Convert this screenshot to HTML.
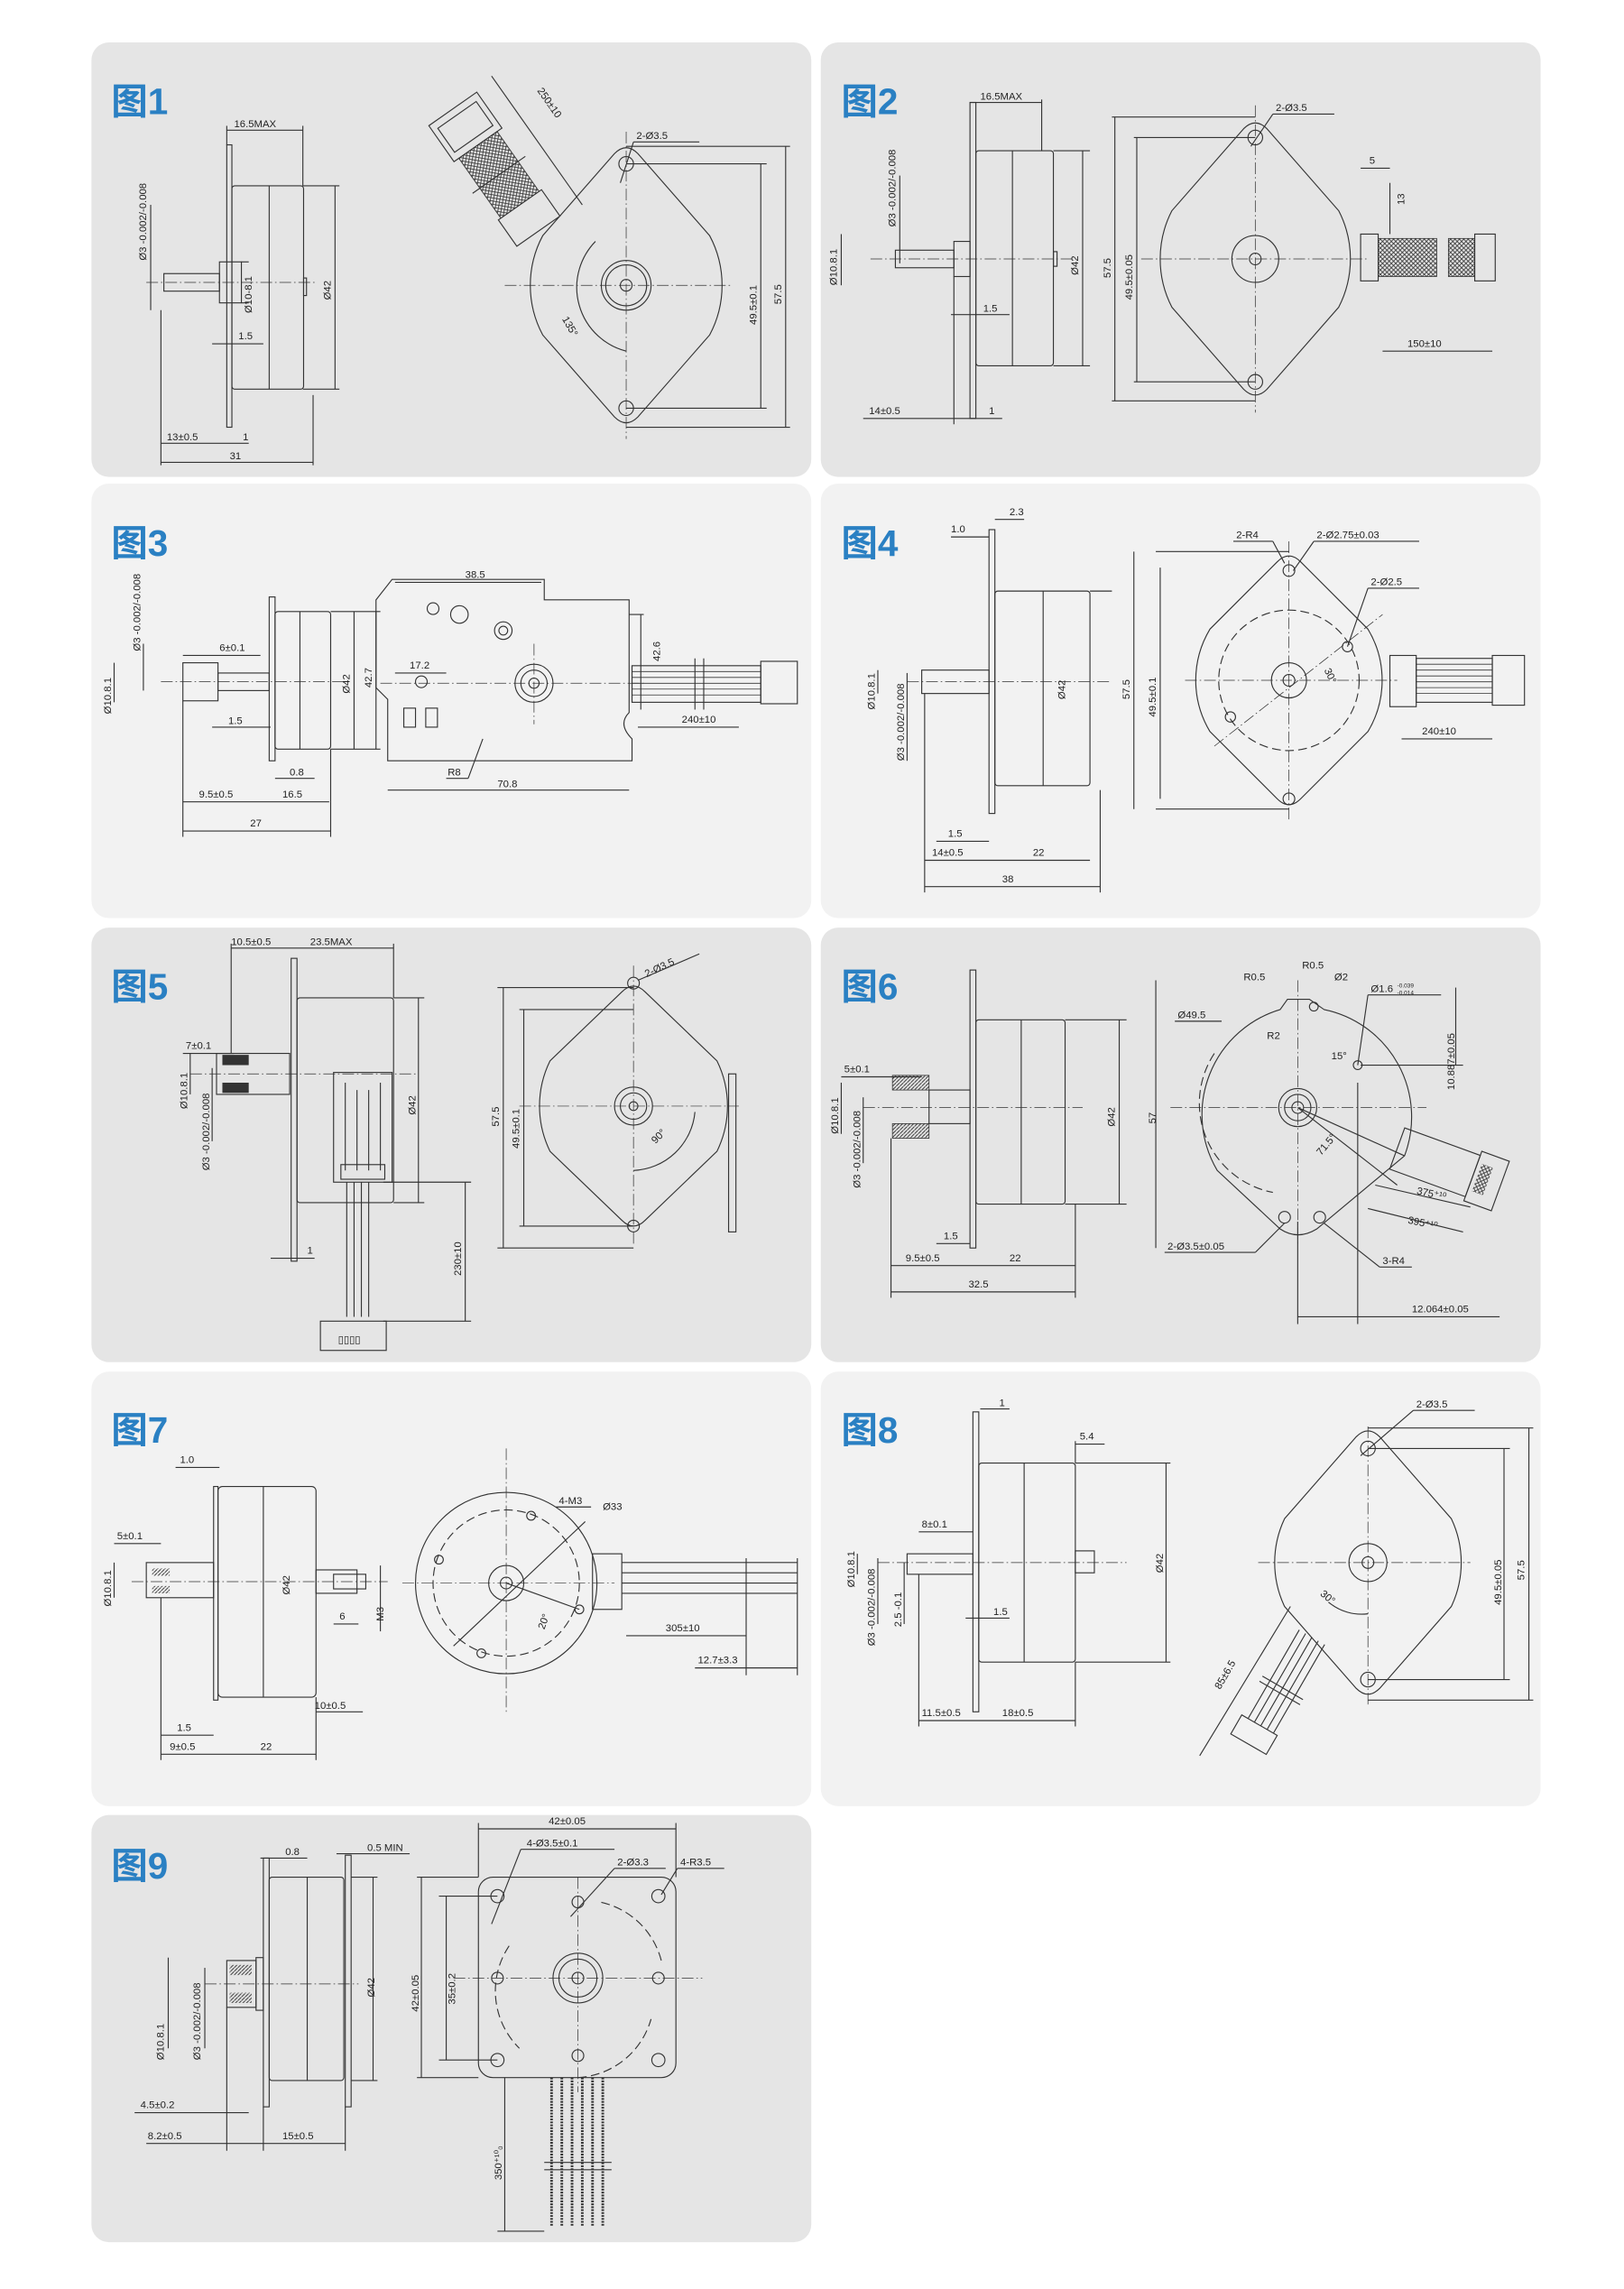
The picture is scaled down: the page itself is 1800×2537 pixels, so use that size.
<!DOCTYPE html>
<html><head><meta charset="utf-8"><style>
html,body{margin:0;padding:0;background:#fff;}
svg{display:block;}
text{font-family:"Liberation Sans",sans-serif;font-size:7px;fill:#222;}
.t{font-family:"Liberation Sans","Noto Sans CJK SC",sans-serif;font-size:25px;font-weight:bold;fill:#2a80c3;}
.l{stroke:#333;stroke-width:0.7;fill:none;}
.c{stroke:#333;stroke-width:0.45;fill:none;stroke-dasharray:8 2 1 2;}
.d{stroke:#333;stroke-width:0.7;fill:none;stroke-dasharray:6 3;}
.f{stroke:#333;stroke-width:0.7;fill:#ececec;}
</style></head><body>
<svg width="1800" height="2537" viewBox="0 0 1800 2537" xmlns="http://www.w3.org/2000/svg">
<defs>
<pattern id="hx" width="3" height="3" patternUnits="userSpaceOnUse"><path d="M0 0L3 3M3 0L0 3" stroke="#333" stroke-width="0.5"/></pattern>
<pattern id="hs" width="2.5" height="2.5" patternUnits="userSpaceOnUse"><path d="M0 2.5L2.5 0" stroke="#333" stroke-width="0.6"/></pattern>
</defs>
<g transform="scale(1.6216)">
<!-- panels -->
<rect x="62.5" y="29" width="492" height="297" rx="12" fill="#e5e5e5"/>
<rect x="561" y="29" width="492" height="297" rx="12" fill="#e5e5e5"/>
<rect x="62.5" y="330.5" width="492" height="297" rx="12" fill="#f2f2f2"/>
<rect x="561" y="330.5" width="492" height="297" rx="12" fill="#f2f2f2"/>
<rect x="62.5" y="634" width="492" height="297" rx="12" fill="#e5e5e5"/>
<rect x="561" y="634" width="492" height="297" rx="12" fill="#e5e5e5"/>
<rect x="62.5" y="937.5" width="492" height="297" rx="12" fill="#f2f2f2"/>
<rect x="561" y="937.5" width="492" height="297" rx="12" fill="#f2f2f2"/>
<rect x="62.5" y="1240.5" width="492" height="292" rx="12" fill="#e5e5e5"/>

<text class="t" x="76" y="78">图1</text>
<text class="t" x="575" y="78">图2</text>
<text class="t" x="76" y="380">图3</text>
<text class="t" x="575" y="380">图4</text>
<text class="t" x="76" y="683">图5</text>
<text class="t" x="575" y="683">图6</text>
<text class="t" x="76" y="986">图7</text>
<text class="t" x="575" y="986">图8</text>
<text class="t" x="76" y="1284">图9</text>

<!-- ===== PANEL 1 ===== -->
<rect class="l" x="155" y="99" width="3.5" height="193"/>
<rect class="l" x="158.5" y="127" width="49" height="139" rx="2"/>
<line class="l" x1="184" y1="127" x2="184" y2="266"/>
<rect class="l" x="207.5" y="190" width="2" height="12"/>
<rect class="l" x="112" y="187" width="38" height="12"/>
<rect class="l" x="150" y="179" width="15" height="28"/>
<line class="c" x1="100" y1="193" x2="215" y2="193"/>
<line class="l" x1="155" y1="89" x2="207" y2="89"/><line class="l" x1="155" y1="86" x2="155" y2="99"/><line class="l" x1="207" y1="86" x2="207" y2="127"/>
<text x="160" y="87">16.5MAX</text>
<line class="l" x1="207" y1="127" x2="232" y2="127"/><line class="l" x1="207" y1="266" x2="232" y2="266"/><line class="l" x1="229" y1="127" x2="229" y2="266"/>
<text transform="translate(226,205) rotate(-90)">Ø42</text>
<line class="l" x1="103" y1="140" x2="103" y2="212"/>
<text transform="translate(100,178) rotate(-90)">Ø3 -0.002/-0.008</text>
<line class="l" x1="165" y1="179" x2="170" y2="179"/><line class="l" x1="165" y1="207" x2="170" y2="207"/>
<text transform="translate(172,214) rotate(-90)">Ø10-8.1</text>
<line class="l" x1="145" y1="235" x2="180" y2="235"/><text x="163" y="232">1.5</text>
<line class="l" x1="110" y1="212" x2="110" y2="318"/><line class="l" x1="214" y1="270" x2="214" y2="318"/>
<line class="l" x1="110" y1="303" x2="170" y2="303"/><text x="114" y="301">13±0.5</text><text x="166" y="301">1</text>
<line class="l" x1="110" y1="316" x2="214" y2="316"/><text x="157" y="314">31</text>
<path class="l" d="M420,105 Q428,97 436,105 L485,161 A72 72 0 0 1 485 229 L436,285 Q428,293 420,285 L371,229 A72 72 0 0 1 371 161 Z"/>
<circle class="l" cx="428" cy="195" r="17"/><circle class="l" cx="428" cy="195" r="14"/><circle class="l" cx="428" cy="195" r="4"/>
<circle class="l" cx="428" cy="112" r="5"/><circle class="l" cx="428" cy="279" r="5"/>
<line class="c" x1="428" y1="90" x2="428" y2="300"/><line class="c" x1="345" y1="195" x2="500" y2="195"/>
<line class="l" x1="428" y1="100" x2="540" y2="100"/><line class="l" x1="428" y1="292" x2="540" y2="292"/>
<line class="l" x1="428" y1="112" x2="524" y2="112"/><line class="l" x1="428" y1="279" x2="524" y2="279"/>
<line class="l" x1="520" y1="112" x2="520" y2="279"/><line class="l" x1="537" y1="100" x2="537" y2="292"/>
<text transform="translate(517,222) rotate(-90)">49.5±0.1</text><text transform="translate(534,208) rotate(-90)">57.5</text>
<text x="435" y="95">2-Ø3.5</text><line class="l" x1="433" y1="97" x2="478" y2="97"/><line class="l" x1="433" y1="97" x2="424" y2="125"/>
<path class="l" d="M407,165 A45 45 0 0 0 428 240"/>
<text transform="translate(384,218) rotate(60)">135°</text>
<g transform="translate(368,158) rotate(-125)">
<rect class="l" x="0" y="-18" width="22" height="36"/>
<rect x="22" y="-16" width="50" height="32" fill="url(#hx)" stroke="#333" stroke-width="0.5"/>
<line class="l" x1="47" y1="-22" x2="47" y2="22"/>
<rect class="l" x="72" y="-20" width="30" height="40"/><rect class="l" x="77" y="-16" width="20" height="32"/>
</g>
<line class="l" x1="398" y1="140" x2="336" y2="52"/>
<text transform="translate(367,62) rotate(55)">250±10</text>

<!-- ===== PANEL 2 ===== -->
<rect class="l" x="663" y="70" width="4" height="216"/>
<rect class="l" x="667" y="103" width="53" height="147" rx="2"/>
<line class="l" x1="692" y1="103" x2="692" y2="250"/>
<rect class="l" x="720" y="172" width="2.5" height="10"/>
<rect class="l" x="612" y="171" width="40" height="12"/><rect class="l" x="652" y="165" width="11" height="24"/>
<line class="c" x1="595" y1="177" x2="735" y2="177"/>
<line class="l" x1="663" y1="70" x2="712" y2="70"/><line class="l" x1="712" y1="68" x2="712" y2="103"/><text x="670" y="68">16.5MAX</text>
<line class="l" x1="720" y1="103" x2="745" y2="103"/><line class="l" x1="720" y1="250" x2="745" y2="250"/><line class="l" x1="740" y1="103" x2="740" y2="250"/>
<text transform="translate(737,188) rotate(-90)">Ø42</text>
<line class="l" x1="575" y1="160" x2="575" y2="195"/><text transform="translate(572,195) rotate(-90)">Ø10.8.1</text>
<line class="l" x1="615" y1="120" x2="615" y2="180"/><text transform="translate(612,155) rotate(-90)">Ø3 -0.002/-0.008</text>
<line class="l" x1="650" y1="215" x2="690" y2="215"/><text x="672" y="213">1.5</text>
<line class="l" x1="590" y1="286" x2="685" y2="286"/><text x="594" y="283">14±0.5</text><text x="676" y="283">1</text>
<line class="l" x1="652" y1="189" x2="652" y2="290"/>
<path class="l" d="M850,88 Q858,80 866,88 L915,144 A72 72 0 0 1 915 210 L866,266 Q858,274 850,266 L801,210 A72 72 0 0 1 801 144 Z"/>
<circle class="l" cx="858" cy="177" r="16"/><circle class="l" cx="858" cy="177" r="4"/>
<circle class="l" cx="858" cy="94" r="5"/><circle class="l" cx="858" cy="261" r="5"/>
<line class="c" x1="858" y1="72" x2="858" y2="282"/><line class="c" x1="780" y1="177" x2="935" y2="177"/>
<line class="l" x1="760" y1="80" x2="858" y2="80"/><line class="l" x1="760" y1="274" x2="858" y2="274"/>
<line class="l" x1="775" y1="94" x2="858" y2="94"/><line class="l" x1="775" y1="261" x2="858" y2="261"/>
<line class="l" x1="762" y1="80" x2="762" y2="274"/><line class="l" x1="777" y1="94" x2="777" y2="261"/>
<text transform="translate(759,190) rotate(-90)">57.5</text><text transform="translate(774,205) rotate(-90)">49.5±0.05</text>
<text x="872" y="76">2-Ø3.5</text><line class="l" x1="870" y1="78" x2="912" y2="78"/><line class="l" x1="870" y1="78" x2="855" y2="100"/>
<rect class="l" x="930" y="160" width="12" height="32"/>
<rect x="942" y="163" width="40" height="26" fill="url(#hx)" stroke="#333" stroke-width="0.5"/>
<rect x="990" y="163" width="18" height="26" fill="url(#hx)" stroke="#333" stroke-width="0.5"/>
<rect class="l" x="1008" y="160" width="14" height="32"/>
<line class="l" x1="930" y1="115" x2="950" y2="115"/><text x="936" y="112">5</text>
<line class="l" x1="950" y1="125" x2="950" y2="160"/><text transform="translate(960,140) rotate(-90)">13</text>
<line class="l" x1="945" y1="240" x2="1020" y2="240"/><text x="962" y="237">150±10</text>

<!-- ===== PANEL 3 ===== -->
<rect class="l" x="184" y="408" width="4" height="112"/>
<rect class="l" x="188" y="418" width="38" height="94" rx="2"/><line class="l" x1="205" y1="418" x2="205" y2="512"/>
<rect class="l" x="125" y="453" width="24" height="26"/><rect class="l" x="149" y="460" width="35" height="12"/>
<line class="c" x1="110" y1="466" x2="240" y2="466"/>
<line class="l" x1="125" y1="448" x2="178" y2="448"/><text x="150" y="445">6±0.1</text>
<line class="l" x1="78" y1="453" x2="78" y2="480"/><text transform="translate(76,488) rotate(-90)">Ø10.8.1</text>
<line class="l" x1="98" y1="440" x2="98" y2="472"/><text transform="translate(96,445) rotate(-90)">Ø3 -0.002/-0.008</text>
<line class="l" x1="145" y1="497" x2="185" y2="497"/><text x="156" y="495">1.5</text>
<line class="l" x1="226" y1="418" x2="260" y2="418"/><line class="l" x1="226" y1="512" x2="260" y2="512"/>
<line class="l" x1="242" y1="418" x2="242" y2="512"/><line class="l" x1="257" y1="418" x2="257" y2="512"/>
<text transform="translate(239,474) rotate(-90)">Ø42</text><text transform="translate(254,470) rotate(-90)">42.7</text>
<line class="l" x1="188" y1="532" x2="215" y2="532"/><text x="198" y="530">0.8</text>
<line class="l" x1="125" y1="548" x2="225" y2="548"/><text x="136" y="545">9.5±0.5</text><text x="193" y="545">16.5</text>
<line class="l" x1="125" y1="568" x2="226" y2="568"/><text x="171" y="565">27</text>
<line class="l" x1="125" y1="479" x2="125" y2="572"/><line class="l" x1="226" y1="512" x2="226" y2="572"/>
<path class="l" d="M257,410 L268,396 L372,396 L372,410 L430,410 L430,487 Q422,495 432,505 L432,520 L265,520 L265,478 L257,470 Z"/>
<circle class="l" cx="365" cy="467" r="13"/><circle class="l" cx="365" cy="467" r="9"/><circle class="l" cx="365" cy="467" r="3.5"/>
<circle class="l" cx="296" cy="416" r="4"/><circle class="l" cx="314" cy="420" r="6"/><circle class="l" cx="344" cy="431" r="6"/><circle class="l" cx="344" cy="431" r="3"/>
<rect class="l" x="276" y="484" width="8" height="13"/><rect class="l" x="291" y="484" width="8" height="13"/>
<circle class="l" cx="288" cy="466" r="4"/>
<line class="c" x1="260" y1="467" x2="440" y2="467"/><line class="c" x1="365" y1="440" x2="365" y2="495"/>
<rect class="l" x="432" y="455" width="88" height="25"/>
<path d="M432,459H520M432,463H520M432,467H520M432,471H520M432,475H520" stroke="#333" stroke-width="0.5"/>
<line class="l" x1="475" y1="450" x2="475" y2="485"/><line class="l" x1="481" y1="450" x2="481" y2="485"/>
<rect class="l" x="520" y="452" width="25" height="29"/>
<line class="l" x1="270" y1="398" x2="370" y2="398"/><text x="318" y="395">38.5</text>
<line class="l" x1="430" y1="420" x2="440" y2="420"/><line class="l" x1="438" y1="420" x2="438" y2="485"/><text transform="translate(451,452) rotate(-90)">42.6</text>
<line class="l" x1="270" y1="460" x2="305" y2="460"/><text x="280" y="457">17.2</text>
<line class="l" x1="436" y1="497" x2="505" y2="497"/><text x="466" y="494">240±10</text>
<line class="l" x1="305" y1="532" x2="320" y2="532"/><line class="l" x1="320" y1="532" x2="330" y2="505"/><text x="306" y="530">R8</text>
<line class="l" x1="265" y1="540" x2="430" y2="540"/><text x="340" y="538">70.8</text>

<!-- ===== PANEL 4 ===== -->
<rect class="l" x="676" y="362" width="4" height="194"/>
<rect class="l" x="680" y="404" width="65" height="133" rx="2"/><line class="l" x1="713" y1="404" x2="713" y2="537"/>
<rect class="l" x="630" y="458" width="46" height="16"/>
<line class="c" x1="620" y1="466" x2="760" y2="466"/>
<line class="l" x1="650" y1="367" x2="676" y2="367"/><text x="650" y="364">1.0</text>
<line class="l" x1="680" y1="355" x2="700" y2="355"/><text x="690" y="352">2.3</text>
<line class="l" x1="600" y1="458" x2="600" y2="474"/><text transform="translate(598,485) rotate(-90)">Ø10.8.1</text>
<line class="l" x1="620" y1="460" x2="620" y2="520"/><text transform="translate(618,520) rotate(-90)">Ø3 -0.002/-0.008</text>
<text transform="translate(728,478) rotate(-90)">Ø42</text>
<line class="l" x1="745" y1="404" x2="760" y2="404"/>
<line class="l" x1="790" y1="377" x2="881" y2="377"/><line class="l" x1="790" y1="553" x2="881" y2="553"/>
<line class="l" x1="775" y1="377" x2="775" y2="553"/><line class="l" x1="793" y1="388" x2="793" y2="546"/>
<text transform="translate(772,478) rotate(-90)">57.5</text><text transform="translate(790,490) rotate(-90)">49.5±0.1</text>
<line class="l" x1="640" y1="575" x2="676" y2="575"/><text x="648" y="572">1.5</text>
<line class="l" x1="632" y1="588" x2="745" y2="588"/><text x="637" y="585">14±0.5</text><text x="706" y="585">22</text>
<line class="l" x1="632" y1="606" x2="752" y2="606"/><text x="685" y="603">38</text>
<line class="l" x1="632" y1="474" x2="632" y2="610"/><line class="l" x1="752" y1="540" x2="752" y2="610"/>
<path class="l" d="M873,384 Q881,376 889,384 L935,430 A68 68 0 0 1 935 500 L889,546 Q881,554 873,546 L827,500 A68 68 0 0 1 827 430 Z"/>
<circle class="d" cx="881" cy="465" r="48"/>
<circle class="l" cx="881" cy="465" r="12"/><circle class="l" cx="881" cy="465" r="4"/>
<circle class="l" cx="881" cy="390" r="4"/><circle class="l" cx="881" cy="546" r="4"/><circle class="l" cx="921" cy="442" r="3.5"/><circle class="l" cx="841" cy="490" r="3.5"/>
<line class="c" x1="881" y1="370" x2="881" y2="560"/><line class="c" x1="810" y1="465" x2="955" y2="465"/><line class="c" x1="830" y1="510" x2="945" y2="420"/>
<rect class="l" x="950" y="448" width="18" height="35"/><rect class="l" x="968" y="450" width="52" height="30"/>
<path d="M968,454H1020M968,458H1020M968,462H1020M968,466H1020M968,470H1020M968,474H1020" stroke="#333" stroke-width="0.5"/>
<rect class="l" x="1020" y="448" width="22" height="34"/>
<line class="l" x1="958" y1="505" x2="1020" y2="505"/><text x="972" y="502">240±10</text>
<text x="845" y="368">2-R4</text><line class="l" x1="843" y1="370" x2="870" y2="370"/><line class="l" x1="870" y1="370" x2="878" y2="385"/>
<text x="900" y="368">2-Ø2.75±0.03</text><line class="l" x1="898" y1="370" x2="970" y2="370"/><line class="l" x1="898" y1="370" x2="884" y2="390"/>
<text x="937" y="400">2-Ø2.5</text><line class="l" x1="935" y1="402" x2="970" y2="402"/><line class="l" x1="935" y1="402" x2="921" y2="442"/>
<text transform="translate(905,458) rotate(65)">30°</text>

<!-- ===== PANEL 5 ===== -->
<rect class="l" x="199" y="655" width="4" height="207"/>
<rect class="l" x="203" y="682" width="66" height="140" rx="2"/>
<rect class="l" x="148" y="720" width="50" height="28"/>
<rect x="152" y="721" width="18" height="7" fill="#333"/><rect x="152" y="740" width="18" height="7" fill="#333"/>
<line class="c" x1="130" y1="734" x2="285" y2="734"/>
<rect class="l" x="228" y="733" width="40" height="75"/>
<path class="l" d="M236,740 V800 M244,745 V800 M252,745 V800 M260,740 V800"/>
<rect class="l" x="233" y="796" width="30" height="10"/>
<path class="l" d="M237,808 V900 M242,808 V900 M247,808 V900 M252,808 V900"/>
<rect class="l" x="219" y="903" width="45" height="20"/><text x="231" y="918">▯▯▯▯</text>
<line class="l" x1="158" y1="648" x2="269" y2="648"/><line class="l" x1="158" y1="645" x2="158" y2="720"/><line class="l" x1="269" y1="645" x2="269" y2="682"/>
<text x="158" y="646">10.5±0.5</text><text x="212" y="646">23.5MAX</text>
<line class="l" x1="125" y1="720" x2="160" y2="720"/><text x="127" y="717">7±0.1</text>
<line class="l" x1="130" y1="720" x2="130" y2="748"/><text transform="translate(128,758) rotate(-90)">Ø10.8.1</text>
<line class="l" x1="145" y1="730" x2="145" y2="780"/><text transform="translate(143,800) rotate(-90)">Ø3 -0.002/-0.008</text>
<line class="l" x1="269" y1="682" x2="290" y2="682"/><line class="l" x1="269" y1="822" x2="290" y2="822"/><line class="l" x1="286" y1="682" x2="286" y2="822"/>
<text transform="translate(284,762) rotate(-90)">Ø42</text>
<line class="l" x1="185" y1="860" x2="215" y2="860"/><text x="210" y="857">1</text>
<line class="l" x1="262" y1="808" x2="322" y2="808"/><line class="l" x1="262" y1="903" x2="322" y2="903"/><line class="l" x1="318" y1="808" x2="318" y2="903"/>
<text transform="translate(315,872) rotate(-90)">230±10</text>
<path class="l" d="M425,678 Q433,670 441,678 L490,725 A70 70 0 0 1 490 787 L441,834 Q433,842 425,834 L376,787 A70 70 0 0 1 376 725 Z"/>
<circle class="l" cx="433" cy="756" r="13"/><circle class="l" cx="433" cy="756" r="9"/><circle class="l" cx="433" cy="756" r="3"/>
<circle class="l" cx="433" cy="672" r="4"/><circle class="l" cx="433" cy="838" r="4"/>
<line class="c" x1="433" y1="660" x2="433" y2="850"/><line class="c" x1="355" y1="756" x2="505" y2="756"/>
<rect class="l" x="498" y="734" width="5" height="108"/>
<line class="l" x1="340" y1="675" x2="433" y2="675"/><line class="l" x1="340" y1="853" x2="433" y2="853"/>
<line class="l" x1="344" y1="675" x2="344" y2="853"/><line class="l" x1="358" y1="690" x2="358" y2="838"/>
<line class="l" x1="355" y1="690" x2="433" y2="690"/><line class="l" x1="355" y1="838" x2="433" y2="838"/>
<text transform="translate(341,770) rotate(-90)">57.5</text><text transform="translate(355,785) rotate(-90)">49.5±0.1</text>
<text transform="translate(442,668) rotate(-25)">2-Ø3.5</text><line class="l" x1="436" y1="670" x2="478" y2="652"/>
<path class="l" d="M433,800 A44 44 0 0 0 475 760"/><text transform="translate(448,782) rotate(-45)">90°</text>

<!-- ===== PANEL 6 ===== -->
<rect class="l" x="663" y="663" width="4" height="190"/>
<rect class="l" x="667" y="697" width="61" height="126" rx="2"/><line class="l" x1="698" y1="697" x2="698" y2="823"/>
<rect x="610" y="735" width="25" height="10" fill="url(#hs)" stroke="#333" stroke-width="0.5"/>
<rect x="610" y="768" width="25" height="10" fill="url(#hs)" stroke="#333" stroke-width="0.5"/>
<rect class="l" x="635" y="745" width="28" height="23"/>
<line class="c" x1="590" y1="757" x2="740" y2="757"/>
<line class="l" x1="575" y1="736" x2="630" y2="736"/><text x="577" y="733">5±0.1</text>
<line class="l" x1="575" y1="740" x2="575" y2="775"/><text transform="translate(573,775) rotate(-90)">Ø10.8.1</text>
<line class="l" x1="590" y1="750" x2="590" y2="795"/><text transform="translate(588,812) rotate(-90)">Ø3 -0.002/-0.008</text>
<line class="l" x1="728" y1="697" x2="770" y2="697"/><line class="l" x1="728" y1="823" x2="770" y2="823"/><line class="l" x1="765" y1="697" x2="765" y2="823"/>
<text transform="translate(762,770) rotate(-90)">Ø42</text>
<line class="l" x1="790" y1="670" x2="790" y2="853"/><text transform="translate(790,768) rotate(-90)">57</text>
<line class="l" x1="640" y1="850" x2="663" y2="850"/><text x="645" y="847">1.5</text>
<line class="l" x1="609" y1="865" x2="735" y2="865"/><text x="619" y="862">9.5±0.5</text><text x="690" y="862">22</text>
<line class="l" x1="609" y1="883" x2="735" y2="883"/><text x="662" y="880">32.5</text>
<line class="l" x1="609" y1="778" x2="609" y2="887"/><line class="l" x1="735" y1="823" x2="735" y2="887"/>
<path class="l" d="M875,690 L880,683 L895,683 L905,690 A75 75 0 0 1 960 790 L900,840 Q887,848 875,840 L832,800 A75 75 0 0 1 875 690 Z"/>
<path class="d" d="M830,720 A62 62 0 0 0 870,815"/>
<circle class="l" cx="887" cy="757" r="13"/><circle class="l" cx="887" cy="757" r="9"/><circle class="l" cx="887" cy="757" r="4"/>
<circle class="l" cx="878" cy="832" r="4"/><circle class="l" cx="902" cy="832" r="4"/><circle class="l" cx="928" cy="728" r="3"/><circle class="l" cx="898" cy="688" r="3"/>
<line class="c" x1="800" y1="757" x2="975" y2="757"/><line class="c" x1="887" y1="670" x2="887" y2="850"/>
<line class="l" x1="887" y1="757" x2="960" y2="790"/><line class="l" x1="887" y1="757" x2="955" y2="810"/>
<g transform="translate(955,785) rotate(20)"><rect class="l" x="0" y="-15" width="55" height="30"/><rect class="l" x="55" y="-18" width="20" height="36"/><rect x="58" y="-10" width="8" height="20" fill="url(#hx)"/></g>
<text x="850" y="670">R0.5</text><text x="890" y="662">R0.5</text><text x="912" y="670">Ø2</text>
<text x="937" y="678">Ø1.6</text><text x="955" y="675" style="font-size:4px">-0.039</text><text x="955" y="680" style="font-size:4px">-0.014</text>
<line class="l" x1="935" y1="680" x2="985" y2="680"/><line class="l" x1="935" y1="680" x2="928" y2="728"/>
<line class="l" x1="930" y1="728" x2="1000" y2="728"/><line class="l" x1="995" y1="675" x2="995" y2="728"/>
<text transform="translate(994,745) rotate(-90)">10.887±0.05</text>
<text x="805" y="696">Ø49.5</text><line class="l" x1="803" y1="698" x2="835" y2="698"/>
<text x="866" y="710">R2</text><text x="910" y="724">15°</text>
<text transform="translate(903,790) rotate(-50)">71.5°</text>
<text transform="translate(968,816) rotate(12)">375⁺¹⁰</text><text transform="translate(962,836) rotate(12)">395⁺¹⁰</text>
<line class="l" x1="940" y1="810" x2="1005" y2="825"/><line class="l" x1="935" y1="826" x2="1000" y2="842"/>
<text x="798" y="854">2-Ø3.5±0.05</text><line class="l" x1="796" y1="856" x2="858" y2="856"/><line class="l" x1="858" y1="856" x2="878" y2="836"/>
<text x="945" y="864">3-R4</text><line class="l" x1="943" y1="866" x2="965" y2="866"/><line class="l" x1="943" y1="866" x2="905" y2="836"/>
<line class="l" x1="887" y1="835" x2="887" y2="905"/><line class="l" x1="928" y1="740" x2="928" y2="905"/>
<line class="l" x1="887" y1="900" x2="1025" y2="900"/><text x="965" y="897">12.064±0.05</text>

<!-- ===== PANEL 7 ===== -->
<rect class="l" x="146" y="1016" width="3" height="146"/>
<rect class="l" x="149" y="1016" width="67" height="144" rx="3"/><line class="l" x1="180" y1="1016" x2="180" y2="1160"/>
<rect class="l" x="100" y="1068" width="46" height="24"/>
<rect x="104" y="1072" width="12" height="5" fill="url(#hs)"/><rect x="104" y="1084" width="12" height="5" fill="url(#hs)"/>
<rect class="l" x="216" y="1073" width="28" height="16"/><rect class="l" x="228" y="1076" width="22" height="10"/>
<line class="c" x1="90" y1="1081" x2="265" y2="1081"/>
<line class="l" x1="120" y1="1003" x2="150" y2="1003"/><text x="123" y="1000">1.0</text>
<line class="l" x1="78" y1="1055" x2="110" y2="1055"/><text x="80" y="1052">5±0.1</text>
<line class="l" x1="78" y1="1068" x2="78" y2="1092"/><text transform="translate(76,1098) rotate(-90)">Ø10.8.1</text>
<text transform="translate(198,1090) rotate(-90)">Ø42</text>
<line class="l" x1="228" y1="1110" x2="245" y2="1110"/><text x="232" y="1107">6</text>
<line class="l" x1="260" y1="1070" x2="260" y2="1115"/><text transform="translate(262,1108) rotate(-90)">M3</text>
<line class="l" x1="216" y1="1170" x2="248" y2="1170"/><text x="215" y="1168">10±0.5</text>
<line class="l" x1="110" y1="1186" x2="146" y2="1186"/><text x="121" y="1183">1.5</text>
<line class="l" x1="110" y1="1199" x2="216" y2="1199"/><text x="116" y="1196">9±0.5</text><text x="178" y="1196">22</text>
<line class="l" x1="110" y1="1092" x2="110" y2="1203"/><line class="l" x1="216" y1="1160" x2="216" y2="1203"/>
<circle class="l" cx="346" cy="1082" r="62"/><circle class="d" cx="346" cy="1082" r="50"/>
<circle class="l" cx="346" cy="1082" r="12"/><circle class="l" cx="346" cy="1082" r="4"/>
<circle class="l" cx="363" cy="1036" r="3"/><circle class="l" cx="396" cy="1100" r="3"/><circle class="l" cx="300" cy="1066" r="3"/><circle class="l" cx="329" cy="1130" r="3"/>
<line class="c" x1="346" y1="990" x2="346" y2="1170"/><line class="c" x1="275" y1="1082" x2="420" y2="1082"/>
<line class="l" x1="310" y1="1125" x2="400" y2="1040"/><line class="l" x1="346" y1="1082" x2="396" y2="1100"/>
<rect class="l" x="405" y="1062" width="20" height="38"/>
<path class="l" d="M425,1068H545M425,1075H545M425,1082H545M425,1089H545"/>
<line class="l" x1="428" y1="1118" x2="510" y2="1118"/><text x="455" y="1115">305±10</text>
<line class="l" x1="475" y1="1140" x2="545" y2="1140"/><text x="477" y="1137">12.7±3.3</text>
<line class="l" x1="545" y1="1065" x2="545" y2="1145"/><line class="l" x1="510" y1="1065" x2="510" y2="1145"/>
<text x="382" y="1028">4-M3</text><line class="l" x1="380" y1="1030" x2="404" y2="1030"/><text x="412" y="1032">Ø33</text>
<text transform="translate(372,1114) rotate(-70)">20°</text>

<!-- ===== PANEL 8 ===== -->
<rect class="l" x="665" y="965" width="4" height="205"/>
<rect class="l" x="669" y="1000" width="66" height="136" rx="2"/><line class="l" x1="700" y1="1000" x2="700" y2="1136"/>
<rect class="l" x="735" y="1060" width="13" height="15"/>
<rect class="l" x="620" y="1062" width="45" height="14"/>
<line class="c" x1="600" y1="1068" x2="770" y2="1068"/>
<line class="l" x1="670" y1="963" x2="690" y2="963"/><text x="683" y="961">1</text>
<line class="l" x1="735" y1="987" x2="755" y2="987"/><line class="l" x1="735" y1="985" x2="735" y2="1000"/><text x="738" y="984">5.4</text>
<line class="l" x1="628" y1="1047" x2="665" y2="1047"/><text x="630" y="1044">8±0.1</text>
<line class="l" x1="586" y1="1062" x2="586" y2="1076"/><text transform="translate(584,1085) rotate(-90)">Ø10.8.1</text>
<line class="l" x1="600" y1="1065" x2="600" y2="1110"/><text transform="translate(598,1125) rotate(-90)">Ø3 -0.002/-0.008</text>
<line class="l" x1="618" y1="1068" x2="618" y2="1110"/><text transform="translate(616,1112) rotate(-90)">2.5 -0.1</text>
<line class="l" x1="660" y1="1106" x2="690" y2="1106"/><text x="679" y="1104">1.5</text>
<line class="l" x1="735" y1="1000" x2="800" y2="1000"/><line class="l" x1="735" y1="1136" x2="800" y2="1136"/><line class="l" x1="797" y1="1000" x2="797" y2="1136"/>
<text transform="translate(795,1075) rotate(-90)">Ø42</text>
<line class="l" x1="628" y1="1176" x2="735" y2="1176"/><text x="630" y="1173">11.5±0.5</text><text x="685" y="1173">18±0.5</text>
<line class="l" x1="628" y1="1076" x2="628" y2="1180"/><line class="l" x1="735" y1="1136" x2="735" y2="1180"/>
<path class="l" d="M927,982 Q935,974 943,982 L992,1038 A70 70 0 0 1 992 1098 L943,1154 Q935,1162 927,1154 L878,1098 A70 70 0 0 1 878 1038 Z"/>
<circle class="l" cx="935" cy="1068" r="13"/><circle class="l" cx="935" cy="1068" r="4"/>
<circle class="l" cx="935" cy="990" r="5"/><circle class="l" cx="935" cy="1148" r="5"/>
<line class="c" x1="935" y1="975" x2="935" y2="1165"/><line class="c" x1="860" y1="1068" x2="1005" y2="1068"/>
<line class="l" x1="935" y1="976" x2="1048" y2="976"/><line class="l" x1="935" y1="1162" x2="1048" y2="1162"/>
<line class="l" x1="935" y1="990" x2="1032" y2="990"/><line class="l" x1="935" y1="1148" x2="1032" y2="1148"/>
<line class="l" x1="1028" y1="990" x2="1028" y2="1148"/><line class="l" x1="1045" y1="976" x2="1045" y2="1162"/>
<text transform="translate(1026,1097) rotate(-90)">49.5±0.05</text><text transform="translate(1042,1080) rotate(-90)">57.5</text>
<text x="968" y="962">2-Ø3.5</text><line class="l" x1="966" y1="964" x2="1008" y2="964"/><line class="l" x1="966" y1="964" x2="930" y2="995"/>
<path class="l" d="M908,1095 A35 35 0 0 0 935 1103"/><text transform="translate(902,1090) rotate(40)">30°</text>
<g transform="translate(895,1118) rotate(120)">
<path class="l" d="M0,-12H70M0,-7H70M0,-2H70M0,3H70M0,8H70"/>
<line class="l" x1="40" y1="-18" x2="40" y2="14"/><line class="l" x1="44" y1="-18" x2="44" y2="14"/>
<rect class="l" x="70" y="-15" width="15" height="28"/>
</g>
<line class="l" x1="882" y1="1098" x2="820" y2="1200"/>
<text transform="translate(834,1155) rotate(-60)">85±6.5</text>

<!-- ===== PANEL 9 ===== -->
<rect class="l" x="180" y="1270" width="4" height="170"/>
<rect class="l" x="184" y="1283" width="51" height="139" rx="2"/><line class="l" x1="210" y1="1283" x2="210" y2="1422"/>
<rect class="l" x="236" y="1268" width="4" height="172"/>
<rect class="l" x="155" y="1340" width="20" height="32"/>
<rect x="157" y="1343" width="15" height="7" fill="url(#hs)"/><rect x="157" y="1362" width="15" height="7" fill="url(#hs)"/>
<rect class="l" x="175" y="1338" width="5" height="36"/>
<line class="c" x1="140" y1="1356" x2="245" y2="1356"/>
<line class="l" x1="178" y1="1270" x2="210" y2="1270"/><text x="195" y="1268">0.8</text>
<line class="l" x1="230" y1="1267" x2="280" y2="1267"/><text x="251" y="1265">0.5 MIN</text>
<line class="l" x1="240" y1="1283" x2="258" y2="1283"/><line class="l" x1="240" y1="1422" x2="258" y2="1422"/><line class="l" x1="255" y1="1283" x2="255" y2="1422"/>
<text transform="translate(256,1365) rotate(-90)">Ø42</text>
<line class="l" x1="115" y1="1338" x2="115" y2="1400"/><text transform="translate(112,1408) rotate(-90)">Ø10.8.1</text>
<line class="l" x1="140" y1="1345" x2="140" y2="1400"/><text transform="translate(137,1408) rotate(-90)">Ø3 -0.002/-0.008</text>
<line class="l" x1="92" y1="1444" x2="170" y2="1444"/><text x="96" y="1441">4.5±0.2</text>
<line class="l" x1="100" y1="1465" x2="236" y2="1465"/><text x="101" y="1462">8.2±0.5</text><text x="193" y="1462">15±0.5</text>
<line class="l" x1="155" y1="1372" x2="155" y2="1470"/><line class="l" x1="180" y1="1440" x2="180" y2="1470"/><line class="l" x1="236" y1="1440" x2="236" y2="1470"/>
<rect class="l" x="327" y="1283" width="135" height="137" rx="10"/>
<path class="d" d="M348,1330 A55 55 0 0 0 355 1400 M395,1420 A55 55 0 0 0 445 1380 M452,1340 A55 55 0 0 0 410 1300"/>
<circle class="l" cx="395" cy="1352" r="17"/><circle class="l" cx="395" cy="1352" r="13"/><circle class="l" cx="395" cy="1352" r="4"/>
<circle class="l" cx="340" cy="1296" r="4.5"/><circle class="l" cx="450" cy="1296" r="4.5"/><circle class="l" cx="340" cy="1408" r="4.5"/><circle class="l" cx="450" cy="1408" r="4.5"/>
<circle class="l" cx="395" cy="1300" r="4"/><circle class="l" cx="340" cy="1352" r="4"/><circle class="l" cx="450" cy="1352" r="4"/><circle class="l" cx="395" cy="1405" r="4"/>
<line class="c" x1="395" y1="1283" x2="395" y2="1430"/><line class="c" x1="310" y1="1352" x2="480" y2="1352"/>
<line class="l" x1="327" y1="1250" x2="462" y2="1250"/><line class="l" x1="327" y1="1246" x2="327" y2="1283"/><line class="l" x1="462" y1="1246" x2="462" y2="1283"/>
<text x="375" y="1247">42±0.05</text>
<text x="360" y="1262">4-Ø3.5±0.1</text><line class="l" x1="356" y1="1264" x2="420" y2="1264"/><line class="l" x1="356" y1="1264" x2="336" y2="1315"/>
<text x="422" y="1275">2-Ø3.3</text><line class="l" x1="420" y1="1277" x2="455" y2="1277"/><line class="l" x1="420" y1="1277" x2="390" y2="1310"/>
<text x="465" y="1275">4-R3.5</text><line class="l" x1="463" y1="1277" x2="495" y2="1277"/><line class="l" x1="463" y1="1277" x2="452" y2="1295"/>
<line class="l" x1="285" y1="1283" x2="327" y2="1283"/><line class="l" x1="285" y1="1420" x2="327" y2="1420"/><line class="l" x1="288" y1="1283" x2="288" y2="1420"/>
<line class="l" x1="300" y1="1296" x2="340" y2="1296"/><line class="l" x1="300" y1="1408" x2="340" y2="1408"/><line class="l" x1="305" y1="1296" x2="305" y2="1408"/>
<text transform="translate(286,1375) rotate(-90)">42±0.05</text><text transform="translate(311,1370) rotate(-90)">35±0.2</text>
<g stroke="#333" stroke-width="1.8" stroke-dasharray="1.2 0.8">
<line x1="377" y1="1420" x2="377" y2="1522"/><line x1="384" y1="1420" x2="384" y2="1522"/><line x1="391" y1="1420" x2="391" y2="1522"/><line x1="398" y1="1420" x2="398" y2="1522"/><line x1="405" y1="1420" x2="405" y2="1522"/><line x1="412" y1="1420" x2="412" y2="1522"/>
</g>
<line class="l" x1="372" y1="1478" x2="418" y2="1478"/><line class="l" x1="372" y1="1483" x2="418" y2="1483"/>
<line class="l" x1="345" y1="1420" x2="345" y2="1525"/><line class="l" x1="340" y1="1525" x2="372" y2="1525"/>
<text transform="translate(343,1490) rotate(-90)">350⁺¹⁰₀</text>
</g>
</svg>
</body></html>
